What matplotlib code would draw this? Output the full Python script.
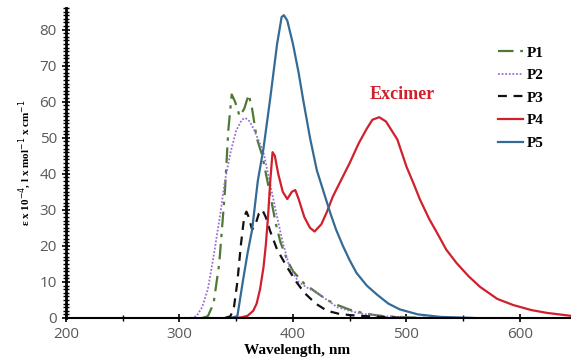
import numpy as np
from matplotlib import pyplot as plt
from matplotlib.ticker import MultipleLocator

# absorption / emission profiles (wavelength in nm, epsilon x 10^-4)
p1_wl = [320, 325, 330, 335, 340, 343, 346, 349, 353, 357, 361, 364, 368, 373, 380, 385, 389,
         395, 400, 410, 421, 430, 440, 450, 460, 470, 480, 500, 520]
p1_eps = [0, 0.5, 4, 15, 35, 52, 62, 60, 56, 58, 62, 58, 50, 45, 34, 26, 21,
          16, 13, 9.5, 7, 5, 3.5, 2.3, 1.5, 0.9, 0.5, 0.2, 0]

p2_wl = [310, 315, 320, 325, 330, 336, 340, 345, 350, 355, 358, 362, 366, 370, 374, 380, 386,
         391, 397, 405, 412, 421, 430, 439, 450, 460, 480, 500, 520]
p2_eps = [0, 0.5, 3, 8, 17, 29, 38, 46, 52, 55, 55.5, 54.5, 52, 49, 46, 37, 28,
          21, 14, 10, 8.5, 7, 5, 3, 2, 1.2, 0.5, 0.2, 0]

p3_wl = [340, 345, 348, 351, 354, 357, 359, 361, 364, 367, 370, 373, 376, 380, 386, 395, 403,
         410, 420, 430, 440, 450, 470, 500]
p3_eps = [0, 0.5, 3, 10, 20, 28, 29.5, 28, 24.5, 26, 29, 30, 28, 24, 19, 14, 10,
          7, 4, 2, 1.2, 0.8, 0.4, 0]

p4_wl = [350, 355, 360, 365, 368, 371, 374, 376, 378, 380, 382, 384, 387, 391, 395, 399, 402,
         405, 410, 415, 419, 425, 430, 435, 442, 450, 458, 465, 470, 476, 482, 492,
         500, 506, 512, 520, 527, 535, 544, 555, 565, 580, 594, 610, 624, 645]
p4_eps = [0, 0.2, 0.6, 2, 4, 8, 14, 20, 28, 38, 46, 45, 40, 35, 33, 35, 35.5,
          33, 28, 25, 24, 26, 29.5, 33.6, 38, 43, 48.5, 52.5, 55, 55.7, 54.5, 49.5,
          42, 37.5, 32.8, 27.5, 23.6, 19, 15.3, 11.5, 8.6, 5.3, 3.6, 2.2, 1.4, 0.6]

p5_wl = [345, 351, 356, 360, 364, 369, 374, 380, 386, 390, 392, 395, 400, 405, 409, 415, 421,
         427, 433, 438, 444, 450, 456, 465, 474, 484, 494, 510, 530, 560]
p5_eps = [0, 0.5, 10.5, 18, 24.5, 38, 47, 61, 76, 83.5, 84, 82.5, 76, 68, 60.5, 50, 41,
          35, 29, 24.5, 20, 16, 12.5, 9, 6.5, 4, 2.4, 1, 0.3, 0]

fig = plt.figure(figsize=(5.71, 3.63), dpi=100)
ax = fig.add_axes([0.1156, 0.124, 0.8844, 0.854])

ax.plot(p1_wl, p1_eps, color='#4f7a35', linestyle=(0, (7, 3, 1.5, 3)), linewidth=1.6, label='P1')
ax.plot(p2_wl, p2_eps, color='#9b6fd0', linestyle=(0, (1, 1)), linewidth=1.3, label='P2')
ax.plot(p3_wl, p3_eps, color='#111111', linestyle=(0, (4, 3)), linewidth=1.6, label='P3')
ax.plot(p4_wl, p4_eps, color='#d0202c', linewidth=1.6, label='P4')
ax.plot(p5_wl, p5_eps, color='#336b96', linewidth=1.6, label='P5')

ax.text(496, 62, 'Excimer', color='#d0202c', fontsize=13, fontweight='bold',
        family='Liberation Serif', ha='center', va='center')

ax.set_xlim(200, 645)
ax.set_ylim(0, 86)
ax.xaxis.set_major_locator(MultipleLocator(100))
ax.xaxis.set_minor_locator(MultipleLocator(50))
ax.yaxis.set_major_locator(MultipleLocator(10))
ax.yaxis.set_minor_locator(MultipleLocator(1))
ax.tick_params(axis='both', which='major', direction='inout', length=6, width=1.2,
               labelsize=11, labelcolor='#595959')
ax.tick_params(axis='both', which='minor', direction='inout', length=4, width=1)
for lbl in ax.get_xticklabels() + ax.get_yticklabels():
    lbl.set_family('Open Sans')

for side in ['top', 'right']:
    ax.spines[side].set_visible(False)
ax.spines['left'].set_linewidth(2)
ax.spines['bottom'].set_linewidth(1.5)

ax.set_xlabel('Wavelength, nm', family='Liberation Serif', fontweight='bold', fontsize=11)
ax.xaxis.set_label_coords(0.458, -0.085)
ax.set_ylabel(r'ε x 10$^{-4}$, l x mol$^{-1}$ x cm$^{-1}$', family='Liberation Serif',
              fontweight='bold', fontsize=8, labelpad=4)

leg = fig.legend(loc='upper left', bbox_to_anchor=(498 / 571, 1 - 46 / 363), frameon=False,
                 borderpad=0, borderaxespad=0, handlelength=1.65, handletextpad=0.25,
                 labelspacing=0.58, prop={'family': 'Liberation Serif', 'weight': 'bold', 'size': 11})

fig.savefig('out.png', dpi=100)
